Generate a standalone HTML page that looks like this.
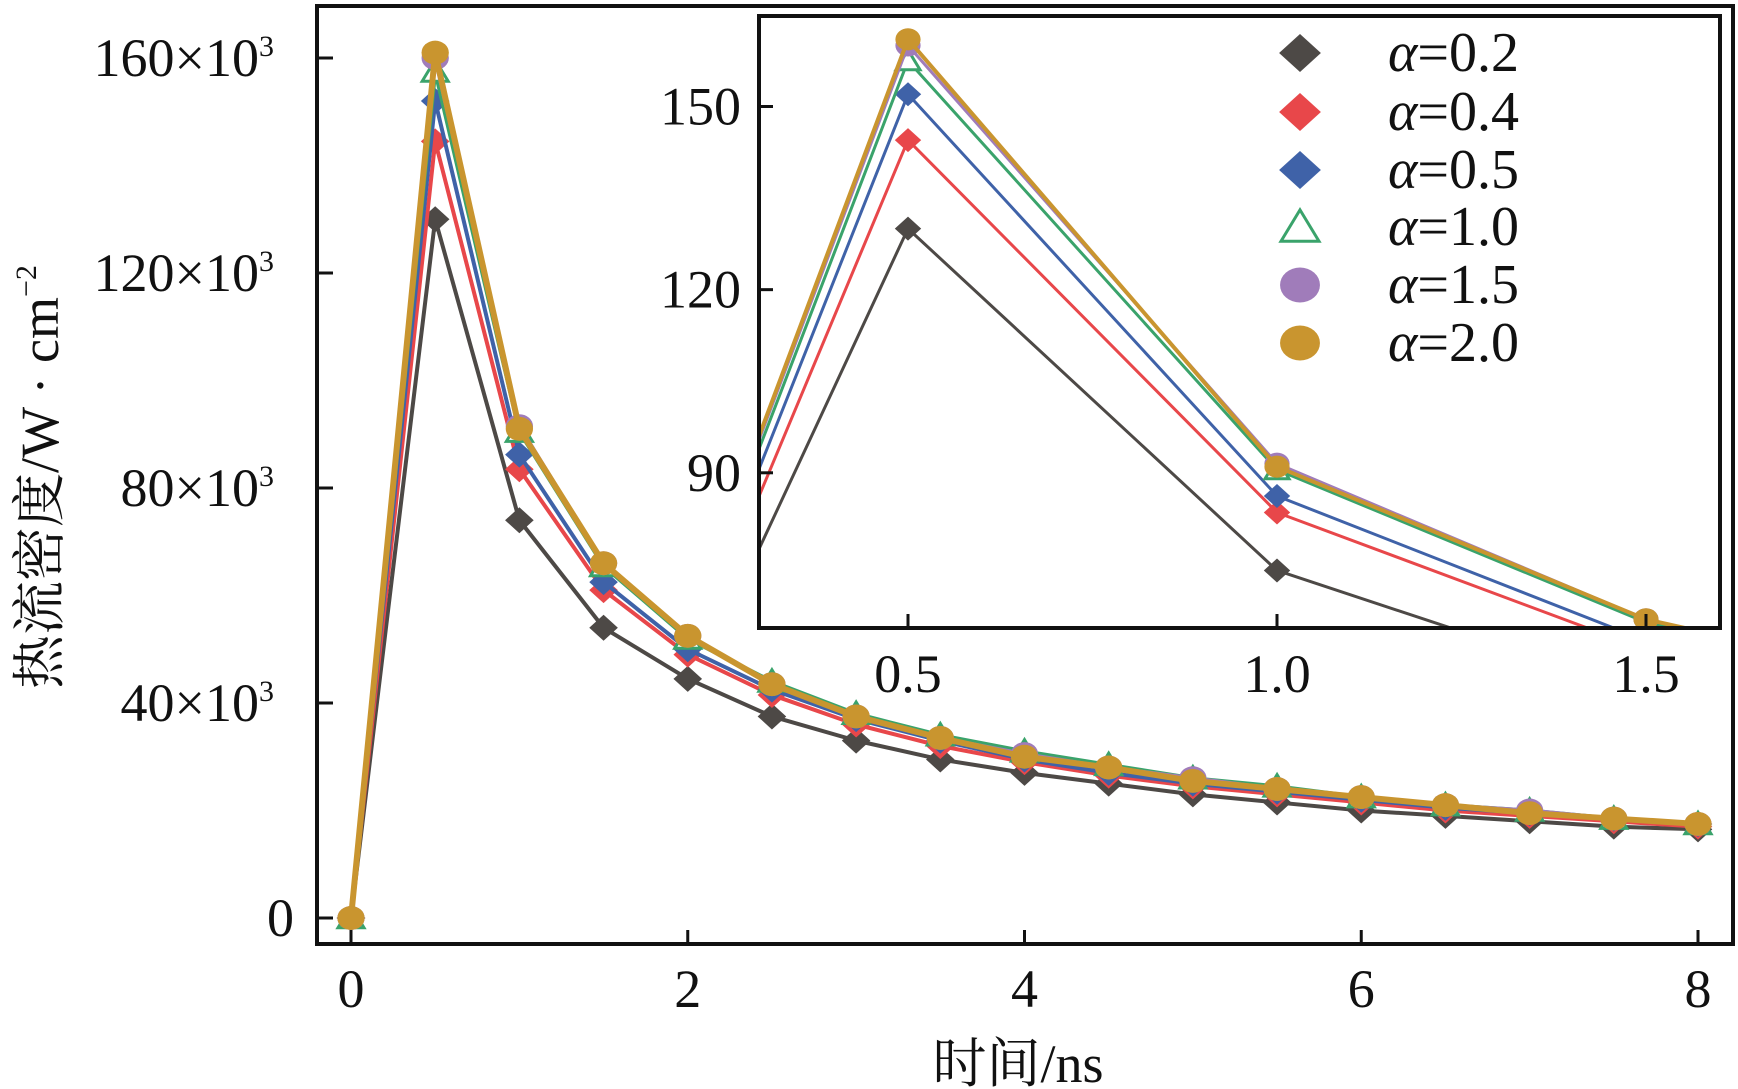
<!DOCTYPE html>
<html><head><meta charset="utf-8">
<style>
html,body{margin:0;padding:0;background:#fff;}
svg{display:block;}
text{font-family:"Liberation Serif","Times New Roman","Noto Serif CJK SC","Noto Sans CJK SC",serif;fill:#111;}
</style></head>
<body>
<svg id="chart" width="1738" height="1089" viewBox="0 0 1738 1089" xmlns="http://www.w3.org/2000/svg">
<rect width="1738" height="1089" fill="#fff"/>
<g id="main"></g>
<g id="inset"></g>
<g id="legend"></g>
<text transform="translate(58,477) rotate(-90)" text-anchor="middle" font-size="54">热流密度/W · cm<tspan font-size="30" dy="-22">−2</tspan></text>
<text x="1018" y="1082" text-anchor="middle" font-size="54">时间/ns</text>
</svg>
<script>
const times = [0,0.5,1,1.5,2,2.5,3,3.5,4,4.5,5,5.5,6,6.5,7,7.5,8];
const seriesNames = ["α=0.2","α=0.4","α=0.5","α=1.0","α=1.5","α=2.0"];
const a02 = [0,130,74,54,44.5,37.5,33,29.5,27,25,23,21.5,20,19,18,17,16.5];
const a04 = [0,144.5,83.5,61,49,41.5,36,32,29,26.5,24.5,23,21.5,20,19,18,17];
const a05 = [0,152,86.2,62.5,50,42.5,37,33,29.5,27,25,23.5,22,20.5,19.5,18.5,17.5];
const a10 = [0,157.5,90.5,65.5,52,44,38,34,31,28.5,26,24.5,22.5,21,20,18.5,17.5];
const a15 = [0,160,91.5,66,52.5,43.5,37.5,33.5,30.5,28,26,24,22.5,21,20,18.5,17.5];
const a20 = [0,161,91,66,52.5,43.5,37.5,33.5,30,28,25.5,24,22.5,21,19.5,18.5,17.5];
const mainXTicks = [0,2,4,6,8];
const mainYTicks = [0,40,80,120,160];
const insetXTicks = [0.5,1.0,1.5];
const insetYTicks = [90,120,150];

const allSeries=[a02,a04,a05,a10,a15,a20];
const colors=["#4d4946","#e8474a","#3f62a8","#3aa36b","#a07cba","#c9952f"];
const markers=["diamond","diamond","diamond","triangle","circle","circle"];
const NS="http://www.w3.org/2000/svg";
function mk(tag,attrs,parent){const e=document.createElementNS(NS,tag);for(const k in attrs)e.setAttribute(k,attrs[k]);parent.appendChild(e);return e;}
function marker(g,type,x,y,c,s){
  let e;
  if(type==="diamond"){e=mk("polygon",{points:`${x-s*1.1},${y} ${x},${y-s} ${x+s*1.1},${y} ${x},${y+s}`,fill:c},g);}
  else if(type==="triangle"){e=mk("polygon",{points:`${x-s},${y+s*0.75} ${x+s},${y+s*0.75} ${x},${y-s*0.9}`,fill:"#fff",stroke:c,"stroke-width":3},g);}
  else {e=mk("ellipse",{cx:x,cy:y,rx:s*1.05,ry:s*0.92,fill:c},g);}
  return e;
}
const mx=v=>351+(v-0)*(1698-351)/8;
const my=v=>918-v*(918-58)/160;
const main=document.getElementById("main");
const seriesG=mk("g",{},main);
allSeries.forEach((s,i)=>{
  const g=mk("g",{},seriesG);
  
  
  const pts=s.map((v,j)=>mx(times[j])+","+my(v)).join(" ");
  mk("polyline",{points:pts,fill:"none",stroke:colors[i],"stroke-width":i===5?6:4,"stroke-linejoin":"round"},g);
  s.forEach((v,j)=>{const m=marker(g,markers[i],mx(times[j]),my(v),colors[i],13);
    
    });
});
const frame=mk("rect",{x:317,y:6,width:1416,height:938,fill:"none",stroke:"#111","stroke-width":4},main);


mainXTicks.forEach(t=>{
  mk("line",{x1:mx(t),x2:mx(t),y1:944,y2:930,stroke:"#111","stroke-width":3},main);
  const l=mk("text",{x:mx(t),y:1007,"text-anchor":"middle","font-size":54},main);l.textContent=t;
  
  
});
mainYTicks.forEach(t=>{
  mk("line",{x1:317,x2:333,y1:my(t),y2:my(t),stroke:"#111","stroke-width":3},main);
  const l=mk("text",{x:294,y:my(t)+18,"text-anchor":"end","font-size":54},main);
  l.textContent=t===0?"0":t+"×10";
  if(t!==0){l.setAttribute('x',274);
    const sp=mk("tspan",{"font-size":30,dy:-20},l);sp.textContent="3";}
  
  
});
const ix=v=>908+(v-0.5)*(1277-908)/0.5;
const iy=v=>106.5-(v-150)*(472.8-106.5)/60;
const inset=document.getElementById("inset");
mk("rect",{x:759,y:16,width:961,height:612,fill:"#fff"},inset);
const cp=mk("clipPath",{id:"ic"},inset);
mk("rect",{x:759,y:16,width:961,height:612},cp);
const ig=mk("g",{"clip-path":"url(#ic)"},inset);
allSeries.forEach((s,i)=>{
  const g=mk("g",{},ig);
  
  
  const pts=s.map((v,j)=>ix(times[j])+","+iy(v)).join(" ");
  mk("polyline",{points:pts,fill:"none",stroke:colors[i],"stroke-width":i===5?4:3,"stroke-linejoin":"round"},g);
  s.forEach((v,j)=>{if(times[j]>=0.3&&times[j]<=1.6){const m=marker(g,markers[i],ix(times[j]),iy(v),colors[i],12);
    
    }});
});
mk("rect",{x:759,y:16,width:961,height:612,fill:"none",stroke:"#111","stroke-width":4},inset);
insetXTicks.forEach(t=>{
  mk("line",{x1:ix(t),x2:ix(t),y1:628,y2:614,stroke:"#111","stroke-width":3},inset);
  const l=mk("text",{x:ix(t),y:692,"text-anchor":"middle","font-size":54},inset);l.textContent=t.toFixed(1);
  
  
});
insetYTicks.forEach(t=>{
  mk("line",{x1:759,x2:773,y1:iy(t),y2:iy(t),stroke:"#111","stroke-width":3},inset);
  const l=mk("text",{x:741,y:iy(t)+18,"text-anchor":"end","font-size":54},inset);l.textContent=t;
  
  
});
const leg=document.getElementById("legend");
const rowsY=[53,112,170,227,285,343];
seriesNames.forEach((n,i)=>{
  const g=mk("g",{},leg);
  
  
  marker(g,markers[i],1300,rowsY[i],colors[i],19);
  const t=mk("text",{x:1388,y:rowsY[i]+18,"font-size":56},g);
  const a=mk("tspan",{"font-style":"italic"},t);a.textContent="α";
  const b=mk("tspan",{},t);b.textContent=n.slice(1);
});
</script>
</body></html>
